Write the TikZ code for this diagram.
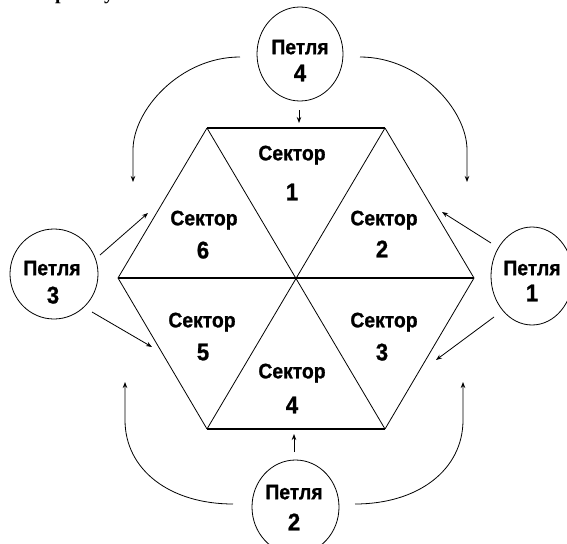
\documentclass[tikz,border=0pt]{standalone}
\usepackage{fontspec}
\setmainfont{Liberation Sans}
\newfontfamily\lab{Liberation Sans}[FakeStretch=0.92, BoldFeatures={FakeBold=1}]
\newfontfamily\ser{Liberation Serif}
\usetikzlibrary{arrows.meta,shapes.geometric}
\begin{document}
\begin{tikzpicture}[x=1pt,y=-1pt,
  thinline/.style={line width=0.8pt},
  hexedge/.style={line width=1.6pt},
  loopnode/.style={draw, ellipse, line width=0.8pt, inner sep=0pt},
  arr/.style={line width=0.8pt, -{Stealth[length=6pt,width=4.5pt]}},
  sec/.style={font=\lab\bfseries\fontsize{21}{21}\selectfont, inner sep=0pt, text depth=0pt},
  num/.style={font=\lab\bfseries\fontsize{24}{24}\selectfont, inner sep=0pt, text depth=0pt},
  frag/.style={font=\ser\bfseries\fontsize{20}{20}\selectfont, inner sep=0pt, anchor=base west}
]
\useasboundingbox (0,0) rectangle (567,543);
\clip (0,0) rectangle (567,543);

% heading fragments (cut at top, as in the reference)
\node[frag] (h1) at (55,0) {р};
\node[frag] (h2) at (104,0) {у};

% hexagon
\coordinate (A) at (207,128);
\coordinate (B) at (385,128);
\coordinate (C) at (474,278);
\coordinate (D) at (385,429);
\coordinate (E) at (207,429);
\coordinate (F) at (118,278);
\coordinate (O) at (296,278);
\draw[hexedge] (A) -- (B);
\draw[hexedge] (E) -- (D);
\draw[hexedge] (F) -- (C);
\draw[thinline] (B) -- (C) -- (D);
\draw[thinline] (E) -- (F) -- (A);
\draw[thinline] (A) -- (D);
\draw[thinline] (B) -- (E);

% sector labels
\node[sec] (s1) at (292,153) {Сектор};  \node[num] (n1) at (292,192) {1};
\node[sec] (s2) at (384,218) {Сектор};  \node[num] (n2) at (382,249) {2};
\node[sec] (s3) at (384,320) {Сектор};  \node[num] (n3) at (382,352) {3};
\node[sec] (s4) at (292,371) {Сектор};  \node[num] (n4) at (292,405) {4};
\node[sec] (s5) at (202,320) {Сектор};  \node[num] (n5) at (203,352) {5};
\node[sec] (s6) at (204,218) {Сектор};  \node[num] (n6) at (203,250) {6};

% loops
\node[loopnode, minimum width=86pt, minimum height=94pt] (L4) at (300,54) {};
\node[loopnode, minimum width=88pt, minimum height=90pt] (L3) at (54,274) {};
\node[loopnode, minimum width=82pt, minimum height=98pt] (L1) at (532,276) {};
\node[loopnode, minimum width=87pt, minimum height=94pt] (L2) at (295.5,507) {};
\node[sec] (p4) at (300,47) {Петля};  \node[num] (m4) at (300,73) {4};
\node[sec] (p3) at (52,268) {Петля};  \node[num] (m3) at (53,295) {3};
\node[sec] (p1) at (532,268) {Петля}; \node[num] (m1) at (532,293) {1};
\node[sec] (p2) at (294,492) {Петля}; \node[num] (m2) at (294,522) {2};

% straight arrows
\coordinate (a4s) at (299,110); \coordinate (a4e) at (299,123);
\coordinate (a2s) at (294,452); \coordinate (a2e) at (294,434);
\coordinate (a3us) at (100,255); \coordinate (a3ue) at (148,213);
\coordinate (a3ds) at (92,312);  \coordinate (a3de) at (152,347);
\coordinate (a1us) at (491,243); \coordinate (a1ue) at (442,212);
\coordinate (a1ds) at (494,317); \coordinate (a1de) at (436,360);
\draw[arr] (a4s) -- (a4e);
\draw[arr] (a2s) -- (a2e);
\draw[arr] (a3us) -- (a3ue);
\draw[arr] (a3ds) -- (a3de);
\draw[arr] (a1us) -- (a1ue);
\draw[arr] (a1ds) -- (a1de);

% curved arrows
\coordinate (c1s) at (240,57);  \coordinate (c1e) at (133,182);
\coordinate (c2s) at (360,57);  \coordinate (c2e) at (467,182);
\coordinate (c3s) at (233,504); \coordinate (c3e) at (125,382);
\coordinate (c4s) at (355,504); \coordinate (c4e) at (463,382);
\draw[arr] (c1s) .. controls (180,57) and (133,110) .. (133,150) -- (c1e);
\draw[arr] (c2s) .. controls (420,57) and (467,110) .. (467,150) -- (c2e);
\draw[arr] (c3s) .. controls (170,504) and (125,470) .. (125,420) -- (c3e);
\draw[arr] (c4s) .. controls (418,504) and (463,470) .. (463,420) -- (c4e);
\end{tikzpicture}
\end{document}
